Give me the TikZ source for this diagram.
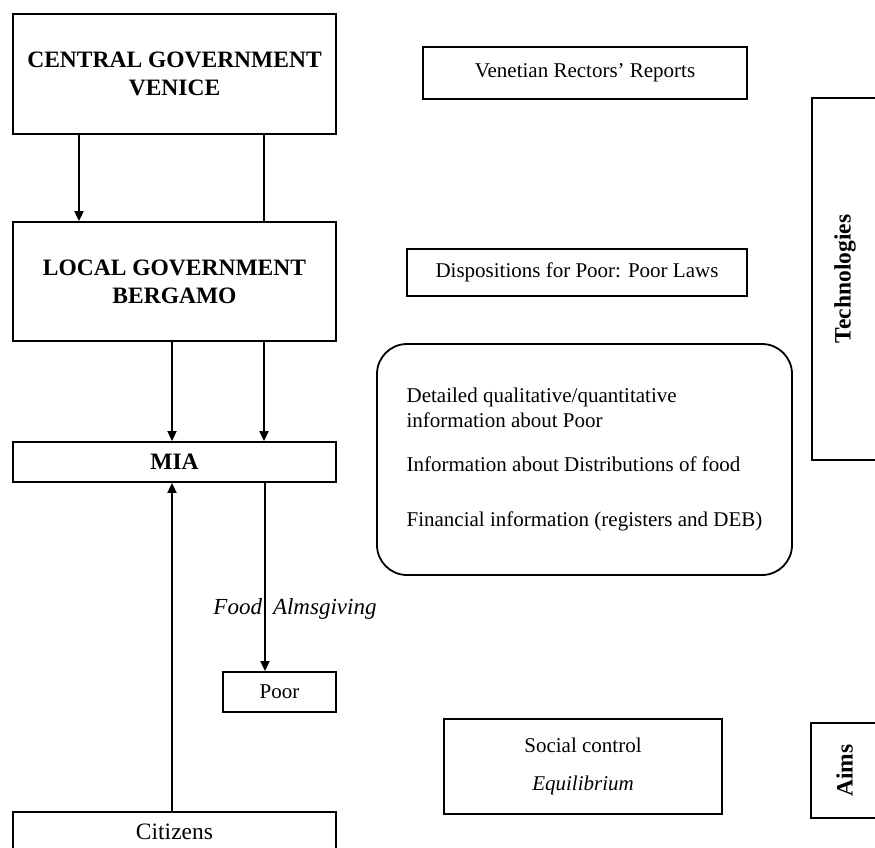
\documentclass[tikz,border=0pt]{standalone}
\usepackage{fontspec}
\setmainfont{Liberation Serif}
\usepackage{tikz}
\usetikzlibrary{positioning, arrows.meta, calc}

\newcommand{\headfont}{\fontsize{23.5}{28}\selectfont\bfseries}
\newcommand{\bodyfont}{\fontsize{21}{25}\selectfont}

\begin{document}
\begin{tikzpicture}[x=1pt, y=-1pt,
	box/.style={draw, line width=1.8pt, inner sep=0pt, align=center},
	arr/.style={-{Triangle[length=10pt, width=9pt]}, line width=1.8pt},
	plain/.style={-, line width=1.8pt}]
						\useasboundingbox (0,0) rectangle (875,848);
						% left column
						\node[box, minimum width=323, minimum height=120, font=\headfont] (central) at (174.5,74) {CENTRAL GOVERNMENT\\VENICE};
						\node[box, minimum width=323, minimum height=119, font=\headfont] (local) at (174.5,281.5) {LOCAL GOVERNMENT\\BERGAMO};
						\node[box, minimum width=323, minimum height=40, font=\headfont] (mia) at (174.5,462) {MIA};
						\node[box, minimum width=113, minimum height=40, font=\bodyfont] (poor) at (279.5,692) {Poor};
						\node[box, minimum width=323, minimum height=40, font=\fontsize{23.5}{28}\selectfont] (citizens) at (174.5,832) {Citizens};
						\node[font=\fontsize{23}{27}\selectfont\itshape] (food) at (295,609) {Food\hspace{11pt}Almsgiving};
						% middle column
						\node[box, minimum width=324, minimum height=52, font=\bodyfont] (reports) at (585,73) {Venetian Rectors’ Reports};
						\node[box, minimum width=340, minimum height=47, font=\bodyfont] (laws) at (577,272.5) {Dispositions for Poor: Poor Laws};
						\node[box, rounded corners=30pt, minimum width=415, minimum height=231, align=left, font=\bodyfont] (info) at (584.5,459.5)
							{Detailed qualitative/quantitative\\information about Poor\\[19pt]Information about Distributions of food\\[30pt]Financial information (registers and DEB)};
						\node[box, minimum width=278, minimum height=95, font=\bodyfont] (aim) at (583,766.5) {Social control\\[13pt]\textit{Equilibrium}};
						% right column
						\node[box, rotate=90, minimum width=362, minimum height=66, font=\headfont] (tech) at (845,279) {Technologies};
						\node[box, rotate=90, minimum width=95, minimum height=67, font=\headfont] (aims) at (844.5,770.5) {Aims};
						\draw
						([xshift=-95.5pt]central.south) edge[arr] ([xshift=-95.5pt]local.north)
						([xshift=89.5pt]central.south) edge[plain] ([xshift=89.5pt]local.north)
						([xshift=-2.5pt]local.south) edge[arr] ([xshift=-2.5pt]mia.north)
						([xshift=89.5pt]local.south) edge[arr] ([xshift=89.5pt]mia.north)
						([xshift=-2.5pt]citizens.north) edge[arr] ([xshift=-2.5pt]mia.south)
						([xshift=90.5pt]mia.south) edge[arr] ([xshift=-14.5pt]poor.north);
					\end{tikzpicture}
\end{document}
